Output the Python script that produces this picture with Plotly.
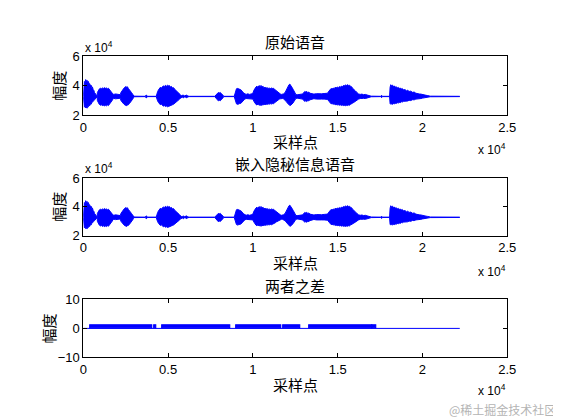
import plotly.graph_objects as go

# ---------------- data ----------------
# speech envelope: sample index, upper / lower amplitude (x 10^4)
env_x = [
    0, 30, 60, 100, 140, 180, 220, 260, 300, 340, 380, 420, 460, 500, 540, 580, 620, 660, 700, 740, 780, 820,
    830, 880, 940, 1000, 1060, 1120, 1180, 1240, 1300, 1360, 1420, 1480, 1540, 1600, 1660, 1710, 1740,
    1800, 1900, 2000, 2100, 2180,
    2220, 2280, 2340, 2400, 2460, 2520, 2560, 2600, 2660, 2720, 2780, 2840, 2900, 2960, 2990,
    3650, 3680, 3710, 3740, 3770, 4300,
    4330, 4380, 4430, 4480, 4540, 4600, 4660, 4720, 4780, 4840, 4900, 4960, 5020, 5080, 5140, 5200,
    5260, 5320, 5380, 5440, 5500, 5560, 5620, 5680, 5740, 5780,
    5850, 5900, 5950, 6050, 6100, 6150, 6250, 7750,
    7790, 7850, 7900, 7960, 8020, 8080, 8140, 8200, 8260, 8290, 8900,
    8940, 8980, 9030, 9080, 9130, 9180, 9230, 9280, 9330, 9380, 9430, 9480, 9520,
    9600, 9700, 9800, 9900, 10000,
    10060, 10120, 10180, 10240, 10300, 10360, 10420, 10480, 10540, 10600, 10660, 10720, 10780, 10840,
    10900, 10960, 11020, 11080, 11140, 11200, 11260, 11320, 11380, 11440, 11500, 11560, 11620, 11680, 11740,
    11800, 11900, 11960, 12020, 12080, 12130, 12180, 12230, 12280, 12330, 12380, 12430, 12480, 12540,
    12650, 12800,
    12940, 13000, 13060, 13120, 13180, 13240, 13300, 13360, 13420, 13480,
    13600, 13750, 13900, 14050, 14200, 14400,
    14490, 14550, 14610, 14670, 14730, 14790, 14850, 14910, 14970, 15030, 15090, 15150, 15210, 15270, 15330,
    15390, 15450, 15510, 15570, 15630, 15690, 15750, 15810, 15870, 15930, 15990, 16050, 16110, 16170, 16230,
    16330, 16430, 16530, 16630, 16730, 16830, 16930, 16980,
    17540, 17590, 17640, 18060,
    18090, 18130, 18180, 18230, 18280, 18330, 18390, 18450, 18510, 18570, 18630, 18690, 18750, 18810,
    18890, 18970, 19050, 19130, 19210, 19310, 19410, 19510, 19610, 19710, 19810, 19910, 20010, 20110,
    20210, 20310, 20410, 20460,
    22200]
env_upper = [
    3.28, 4.1, 4.3, 4.22, 4.43, 4.3, 4.38, 4.2, 4.3, 4.12, 4.15, 4.0, 4.05, 3.88, 3.92, 3.75, 3.7, 3.55, 3.5, 3.38, 3.33, 3.3,
    3.55, 3.7, 3.78, 3.84, 3.8, 3.86, 3.82, 3.88, 3.83, 3.86, 3.8, 3.84, 3.76, 3.72, 3.6, 3.5, 3.45,
    3.42, 3.45, 3.42, 3.44, 3.4,
    3.55, 3.68, 3.75, 3.85, 3.9, 3.96, 3.9, 3.94, 3.82, 3.75, 3.62, 3.55, 3.45, 3.35, 3.3,
    3.29, 3.36, 3.38, 3.36, 3.29, 3.29,
    3.45, 3.6, 3.72, 3.8, 3.9, 3.85, 3.95, 4.0, 3.94, 4.04, 3.98, 4.04, 4.0, 4.02, 3.92, 3.96,
    3.85, 3.88, 3.78, 3.7, 3.62, 3.55, 3.5, 3.45, 3.38, 3.33,
    3.33, 3.38, 3.31, 3.33, 3.38, 3.31, 3.29, 3.29,
    3.35, 3.42, 3.5, 3.55, 3.52, 3.55, 3.48, 3.4, 3.33, 3.29, 3.29,
    3.5, 3.7, 3.8, 3.83, 3.78, 3.82, 3.72, 3.75, 3.65, 3.62, 3.55, 3.5, 3.45,
    3.42, 3.46, 3.42, 3.45, 3.5,
    3.7, 3.85, 3.92, 3.98, 3.9, 4.02, 3.96, 4.03, 3.92, 3.97, 3.88, 3.9, 3.85, 3.88,
    3.82, 3.86, 3.8, 3.86, 3.82, 3.84, 3.78, 3.72, 3.65, 3.6, 3.52, 3.48, 3.45, 3.42, 3.42,
    3.45, 3.55, 3.7, 3.85, 3.98, 4.08, 4.12, 4.05, 3.95, 3.85, 3.75, 3.62, 3.5, 3.4,
    3.4, 3.42,
    3.45, 3.55, 3.62, 3.58, 3.62, 3.55, 3.58, 3.5, 3.48, 3.45,
    3.44, 3.47, 3.44, 3.46, 3.48, 3.5,
    3.65, 3.75, 3.82, 3.78, 3.85, 3.82, 3.9, 3.86, 3.92, 3.88, 3.95, 3.9, 3.98, 3.95, 4.02,
    4.0, 4.06, 4.02, 4.08, 4.03, 4.05, 3.98, 3.95, 3.85, 3.8, 3.72, 3.65, 3.58, 3.5, 3.45,
    3.42, 3.44, 3.4, 3.42, 3.38, 3.36, 3.33, 3.3,
    3.29, 3.36, 3.29, 3.29,
    3.9, 4.08, 4.0, 4.05, 3.95, 4.0, 3.9, 3.95, 3.85, 3.9, 3.82, 3.86, 3.78, 3.82,
    3.72, 3.75, 3.66, 3.7, 3.62, 3.64, 3.56, 3.58, 3.5, 3.5, 3.45, 3.44, 3.4, 3.38,
    3.36, 3.34, 3.31, 3.3,
    3.29]
env_lower = [
    3.28, 2.7, 2.55, 2.6, 2.5, 2.55, 2.48, 2.6, 2.58, 2.68, 2.65, 2.78, 2.75, 2.85, 2.88, 2.95, 3.0, 3.05, 3.12, 3.2, 3.24, 3.26,
    3.0, 2.85, 2.75, 2.68, 2.72, 2.65, 2.7, 2.63, 2.68, 2.64, 2.7, 2.66, 2.75, 2.8, 2.92, 3.02, 3.1,
    3.15, 3.12, 3.15, 3.13, 3.16,
    3.0, 2.9, 2.82, 2.75, 2.7, 2.68, 2.65, 2.7, 2.72, 2.8, 2.88, 2.95, 3.08, 3.2, 3.26,
    3.27, 3.2, 3.18, 3.2, 3.27, 3.27,
    3.12, 2.98, 2.88, 2.8, 2.72, 2.76, 2.68, 2.62, 2.66, 2.6, 2.63, 2.58, 2.6, 2.62, 2.68, 2.65,
    2.72, 2.75, 2.8, 2.86, 2.92, 2.98, 3.04, 3.1, 3.18, 3.22,
    3.23, 3.18, 3.25, 3.23, 3.18, 3.25, 3.27, 3.27,
    3.2, 3.12, 3.05, 2.98, 3.02, 2.99, 3.06, 3.14, 3.22, 3.27, 3.27,
    3.05, 2.85, 2.78, 2.74, 2.78, 2.75, 2.82, 2.8, 2.88, 2.9, 2.98, 3.05, 3.1,
    3.14, 3.12, 3.15, 3.12, 3.1,
    2.95, 2.8, 2.74, 2.7, 2.76, 2.68, 2.72, 2.66, 2.72, 2.7, 2.75, 2.72, 2.76, 2.74,
    2.78, 2.75, 2.8, 2.76, 2.8, 2.78, 2.84, 2.9, 2.96, 3.0, 3.05, 3.1, 3.12, 3.14, 3.14,
    3.12, 3.05, 2.95, 2.85, 2.75, 2.7, 2.66, 2.68, 2.72, 2.78, 2.85, 2.95, 3.05, 3.15,
    3.16, 3.15,
    3.1, 3.0, 2.95, 2.98, 2.94, 3.0, 2.98, 3.05, 3.08, 3.1,
    3.13, 3.1, 3.12, 3.1, 3.1, 3.08,
    2.95, 2.85, 2.78, 2.8, 2.75, 2.78, 2.72, 2.74, 2.7, 2.73, 2.68, 2.72, 2.67, 2.7, 2.66,
    2.68, 2.65, 2.68, 2.66, 2.7, 2.68, 2.74, 2.76, 2.82, 2.86, 2.92, 2.98, 3.02, 3.08, 3.1,
    3.14, 3.12, 3.15, 3.14, 3.18, 3.2, 3.23, 3.26,
    3.27, 3.2, 3.27, 3.27,
    2.8, 2.75, 2.78, 2.74, 2.8, 2.77, 2.82, 2.8, 2.86, 2.83, 2.88, 2.86, 2.92, 2.9,
    2.95, 2.94, 2.98, 2.97, 3.02, 3.0, 3.06, 3.05, 3.1, 3.1, 3.14, 3.14, 3.17, 3.19,
    3.21, 3.23, 3.25, 3.26,
    3.27]
assert len(env_x) == len(env_upper) == len(env_lower)

# difference (stego - original): segments where the difference is 1, else 0
diff_seg_start = [425, 4193, 4655, 9000, 11768, 13307, 17060]
diff_seg_end = [4078, 4327, 8692, 11692, 12788, 17017, 17250]
diff_seg_value = [1, 1, 1, 1, 1, 1, 1]
diff_line_x = [0, 22200]
diff_line_y = [0, 0]

x_tickvals = [0, 5000, 10000, 15000, 20000, 25000]
x_ticktext = ["0", "0.5", "1", "1.5", "2", "2.5"]
y_ticks_speech = [2, 4, 6]
y_ticks_diff = [-10, 0, 10]

titles = ["原始语音", "嵌入隐秘信息语音", "两者之差"]
xlabel = "采样点"
ylabel = "幅度"
watermark = "@稀土掘金技术社区"

# ---------------- figure ----------------
W, H = 561, 420
BLUE = "#0000ff"
CJK = "Noto Sans CJK SC"
LAT = "Liberation Sans"

fig = go.Figure()


def py(p):
    return 1 - p / H


def px(p):
    return p / W


X0, X1 = 73, 507
panels = [(43, 104), (169, 229), (295, 355)]

for i in (1, 2):
    xa = "x" if i == 1 else f"x{i}"
    ya = "y" if i == 1 else f"y{i}"
    fig.add_trace(go.Scatter(x=env_x, y=env_upper, mode="lines",
                             line=dict(color=BLUE, width=1), xaxis=xa, yaxis=ya,
                             showlegend=False, hoverinfo="skip"))
    fig.add_trace(go.Scatter(x=env_x, y=env_lower, mode="lines", fill="tonexty",
                             fillcolor=BLUE, line=dict(color=BLUE, width=1),
                             xaxis=xa, yaxis=ya, showlegend=False, hoverinfo="skip"))

fig.add_trace(go.Scatter(x=diff_line_x, y=diff_line_y, mode="lines",
                         line=dict(color=BLUE, width=1), xaxis="x3", yaxis="y3",
                         showlegend=False, hoverinfo="skip"))
fig.add_trace(go.Bar(
    x=[(s + e) / 2 for s, e in zip(diff_seg_start, diff_seg_end)],
    width=[e - s for s, e in zip(diff_seg_start, diff_seg_end)],
    y=diff_seg_value, base=0, marker=dict(color=BLUE, line=dict(color=BLUE, width=1.2)),
    xaxis="x3", yaxis="y3", showlegend=False, hoverinfo="skip"))

axis_common = dict(showline=True, linecolor="black", linewidth=1, mirror="allticks",
                   ticks="inside", ticklen=4, tickcolor="black", showgrid=False,
                   zeroline=False, tickfont=dict(family=LAT, size=13, color="black"))

layout = dict(width=W, height=H, margin=dict(l=0, r=0, t=0, b=0),
              paper_bgcolor="white", plot_bgcolor="white", bargap=0,
              showlegend=False)

for i, (top, bot) in enumerate(panels, start=1):
    sx = "" if i == 1 else str(i)
    layout[f"xaxis{sx}"] = dict(axis_common, domain=[px(X0), px(X1)], range=[0, 25000],
                                tickvals=x_tickvals, ticktext=x_ticktext,
                                anchor=f"y{sx}")
    if i < 3:
        yr, yt = [2, 6], y_ticks_speech
    else:
        yr, yt = [-10, 10], y_ticks_diff
    layout[f"yaxis{sx}"] = dict(axis_common, domain=[py(bot), py(top)], range=yr,
                                tickvals=yt, anchor=f"x{sx}")

fig.update_layout(**layout)

ann = []
title_y = [28, 154, 280]
xlab_y = [131, 257, 383]
xexp_y = [139, 265, 389]
ylab_x = [48, 48, 37]
for i, (top, bot) in enumerate(panels):
    cx = (X0 + X1) / 2
    ann.append(dict(text=titles[i], x=px(cx), y=py(title_y[i]), xref="paper", yref="paper",
                    showarrow=False, font=dict(family=CJK, size=15, color="black"),
                    xanchor="center", yanchor="middle"))
    ann.append(dict(text=xlabel, x=px(cx), y=py(xlab_y[i]), xref="paper", yref="paper",
                    showarrow=False, font=dict(family=CJK, size=15, color="black"),
                    xanchor="center", yanchor="middle"))
    ann.append(dict(text="x 10<sup>4</sup>", x=px(X1 + 1), y=py(xexp_y[i]), xref="paper",
                    yref="paper", showarrow=False,
                    font=dict(family=LAT, size=12, color="black"),
                    xanchor="right", yanchor="middle"))
    ann.append(dict(text=ylabel, x=px(ylab_x[i]), y=py((top + bot) / 2), xref="paper",
                    yref="paper", showarrow=False, textangle=-90,
                    font=dict(family=CJK, size=15, color="black"),
                    xanchor="center", yanchor="middle"))
    if i < 2:
        ann.append(dict(text="x 10<sup>4</sup>", x=px(X0), y=py(top - 10), xref="paper",
                        yref="paper", showarrow=False,
                        font=dict(family=LAT, size=12, color="black"),
                        xanchor="left", yanchor="middle"))

ann.append(dict(text=watermark, x=px(559), y=py(409), xref="paper", yref="paper",
                showarrow=False, font=dict(family=CJK, size=12, color="#b4b4b4"),
                xanchor="right", yanchor="middle"))

fig.update_layout(annotations=ann)
fig.write_html("out.html")
